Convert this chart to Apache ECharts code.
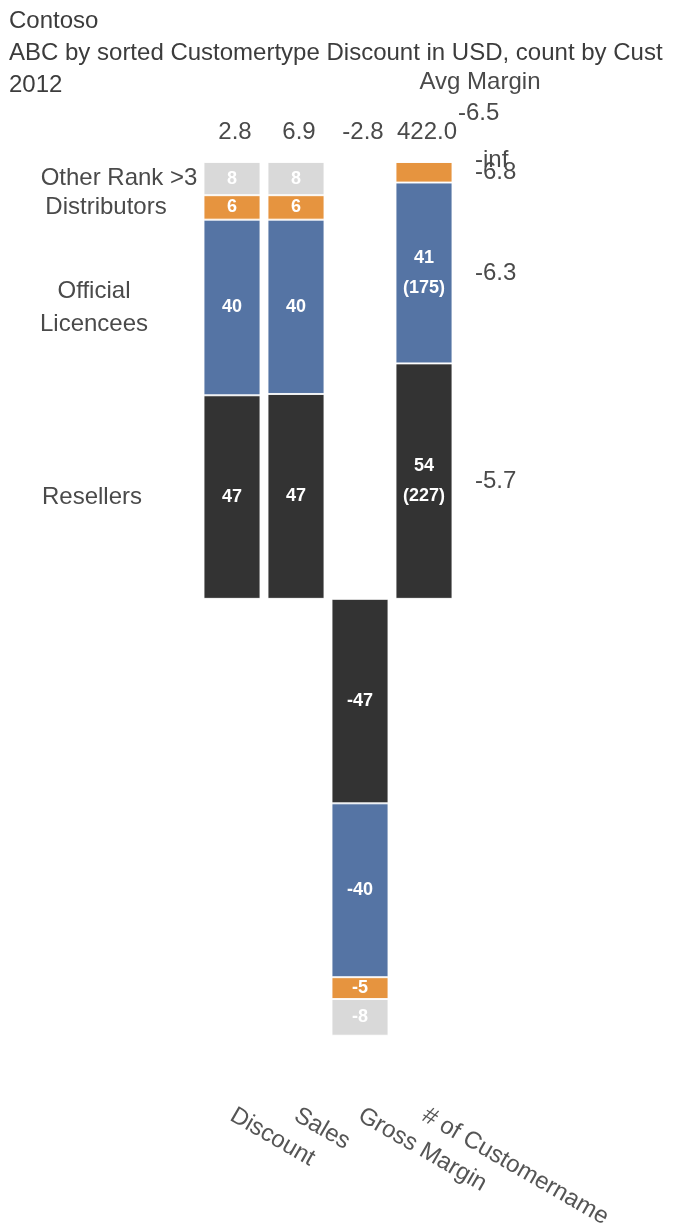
<!DOCTYPE html>
<html>
<head>
<meta charset="utf-8">
<title>Contoso ABC by Customertype</title>
<script src="https://cdn.jsdelivr.net/npm/echarts@6/dist/echarts.min.js"></script>
<style>
  html, body { margin: 0; padding: 0; background: #ffffff; }
  #chart { width: 686px; height: 1231px; }
</style>
</head>
<body>
<div id="chart"></div>
<script>
// Measures shown as columns
const categories = ['Discount', 'Sales', 'Gross Margin', '# of Customername'];

// Customer types, stacked from the zero line outwards
const segmentNames = ['Resellers', 'Official\nLicencees', 'Distributors', 'Other Rank >3'];

// Share of each measure per customer type, in percent
const resellers         = [46.6, 46.9, -46.8, 53.9];
const officialLicencees = [40.2, 39.9, -39.8, 41.4];
const distributors      = [5.6, 5.6, -5.0, 4.7];
const otherRank         = [7.6, 7.6, -8.4, 0];

// Customer counts per type (for the # of Customername column)
const customerCounts = [227, 175, 20, 0];

// Column totals shown above each column
const columnTotals = [2.8, 6.9, -2.8, 422.0];

// Average margin per customer type and overall
const avgMargins = [-5.7, -6.3, -6.8, -Infinity];
const avgMarginTotal = -6.5;

const segmentColors = ['#333333', '#5574a4', '#e6943f', '#d9d9d9'];
const FONT = "'Liberation Sans', Arial, sans-serif";
const TEXT_COLOR = '#4a4a4a';
const CUSTOMER_COL = 3;

const seriesValues = [resellers, officialLicencees, distributors, otherRank];

function fmtMargin(v) {
  return isFinite(v) ? v.toFixed(1) : '-inf';
}

// Middle of a segment within the stack of one column
function segmentCenter(col, seg) {
  let base = 0;
  for (let s = 0; s < seg; s++) base += seriesValues[s][col];
  return base + seriesValues[seg][col] / 2;
}

const barSeries = seriesValues.map(function (vals, si) {
  return {
    name: segmentNames[si],
    type: 'bar',
    stack: 'share',
    barWidth: 57,
    itemStyle: { color: segmentColors[si], borderColor: 'rgba(255,255,255,0.85)', borderWidth: 1 },
    data: vals.map(function (v, ci) {
      const item = { value: v };
      const small = Math.abs(v) < 5;
      if (ci === CUSTOMER_COL) {
        item.label = {
          show: !small && v !== 0,
          formatter: Math.round(v) + '\n(' + customerCounts[si] + ')',
          lineHeight: 30
        };
      } else {
        item.label = { show: v !== 0 };
      }
      return item;
    }),
    label: {
      show: true,
      position: 'inside',
      color: '#ffffff',
      fontFamily: FONT,
      fontWeight: 'bold',
      fontSize: 18,
      formatter: function (p) { return String(Math.round(p.value)); }
    }
  };
});

// Customer type names left of the first column
const leftLabelCenters = [92, 94, 106, 119];
const leftLabelSeries = {
  type: 'custom',
  silent: true,
  clip: false,
  z: 10,
  data: segmentNames.map(function (n, si) { return [0, segmentCenter(0, si), si]; }),
  renderItem: function (params, api) {
    const si = api.value(2);
    const pt = api.coord([api.value(0), api.value(1)]);
    return {
      type: 'text',
      x: leftLabelCenters[si],
      y: pt[1],
      style: {
        text: segmentNames[si],
        font: '24px ' + FONT,
        fill: TEXT_COLOR,
        align: 'center',
        verticalAlign: 'middle',
        lineHeight: 33
      }
    };
  }
};

// Totals above each column
const totalSeries = {
  type: 'custom',
  silent: true,
  clip: false,
  z: 10,
  data: columnTotals.map(function (v, ci) { return [ci, 100, v]; }),
  renderItem: function (params, api) {
    const pt = api.coord([api.value(0), api.value(1)]);
    return {
      type: 'text',
      x: pt[0] + 3,
      y: pt[1] - 30,
      style: {
        text: api.value(2).toFixed(1),
        font: '24px ' + FONT,
        fill: TEXT_COLOR,
        align: 'center',
        verticalAlign: 'middle'
      }
    };
  }
};

// Average margin per customer type, right of the last column
const marginSeries = {
  type: 'custom',
  silent: true,
  clip: false,
  z: 10,
  data: avgMargins.map(function (v, si) { return [CUSTOMER_COL, segmentCenter(CUSTOMER_COL, si), si]; }),
  renderItem: function (params, api) {
    const si = api.value(2);
    const pt = api.coord([api.value(0), api.value(1)]);
    const half = api.size([1, 0])[0] / 2;
    return {
      type: 'text',
      x: pt[0] + half + 19,
      y: pt[1] - (si === 3 ? 2 : 0),
      style: {
        text: fmtMargin(avgMargins[si]),
        font: '24px ' + FONT,
        fill: TEXT_COLOR,
        align: 'left',
        verticalAlign: 'middle'
      }
    };
  }
};

// Overall average margin with its header
const marginTotalSeries = {
  type: 'custom',
  silent: true,
  clip: false,
  z: 10,
  data: [[CUSTOMER_COL, 100, avgMarginTotal]],
  renderItem: function (params, api) {
    const pt = api.coord([api.value(0), api.value(1)]);
    const half = api.size([1, 0])[0] / 2;
    return {
      type: 'group',
      children: [
        {
          type: 'text',
          x: pt[0] + half + 2,
          y: pt[1] - 49,
          style: {
            text: api.value(2).toFixed(1),
            font: '24px ' + FONT,
            fill: TEXT_COLOR,
            align: 'left',
            verticalAlign: 'middle'
          }
        },
        {
          type: 'text',
          x: pt[0] + half + 24,
          y: pt[1] - 80,
          style: {
            text: 'Avg Margin',
            font: '24px ' + FONT,
            fill: TEXT_COLOR,
            align: 'center',
            verticalAlign: 'middle'
          }
        }
      ]
    };
  }
};

const chart = echarts.init(document.getElementById('chart'), null, { renderer: 'canvas' });

chart.setOption({
  backgroundColor: '#ffffff',
  animation: false,
  title: [
    { text: 'Contoso', left: 4, top: 4, textStyle: { fontFamily: FONT, fontSize: 24, fontWeight: 'normal', color: '#3c3c3c' } },
    { text: 'ABC by sorted Customertype Discount in USD, count by Cust', left: 4, top: 36, textStyle: { fontFamily: FONT, fontSize: 24, fontWeight: 'normal', color: '#3c3c3c' } },
    { text: '2012', left: 4, top: 68, textStyle: { fontFamily: FONT, fontSize: 24, fontWeight: 'normal', color: '#3c3c3c' } }
  ],
  grid: { left: 200, width: 256, top: 162, bottom: 189, containLabel: false },
  xAxis: {
    type: 'category',
    data: categories,
    position: 'bottom',
    axisLine: { show: false, onZero: false },
    axisTick: { show: false },
    axisLabel: {
      rotate: -30,
      margin: 78,
      interval: 0,
      fontFamily: FONT,
      fontSize: 24,
      color: '#555555'
    }
  },
  yAxis: {
    type: 'value',
    min: -100,
    max: 100,
    show: false
  },
  series: barSeries.concat([leftLabelSeries, totalSeries, marginSeries, marginTotalSeries])
});
</script>
</body>
</html>
